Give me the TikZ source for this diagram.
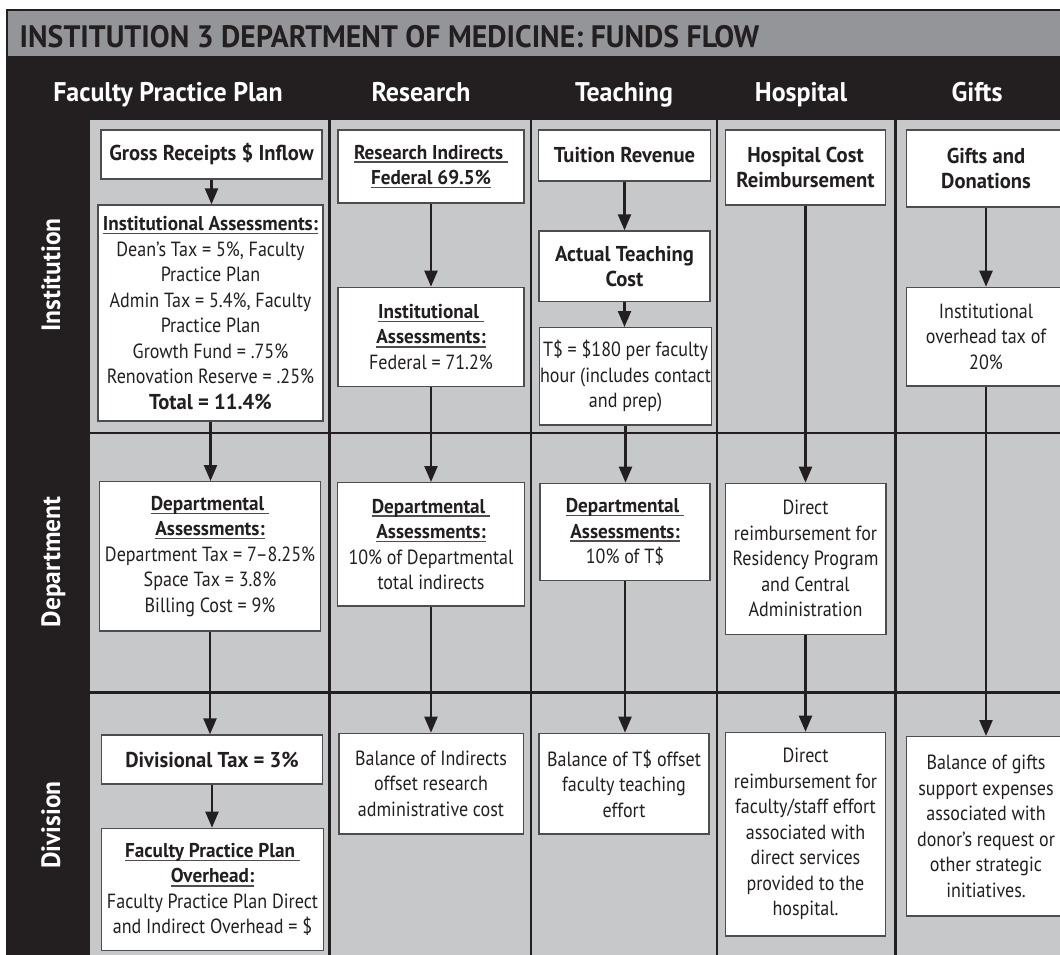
\documentclass[tikz,border=0pt]{standalone}
\usepackage{fontspec}
\setmainfont{PT Sans}[FakeStretch=0.88, BoldFeatures={FakeStretch=0.96}]
\usetikzlibrary{arrows.meta}
\definecolor{dark}{HTML}{231F20}
\definecolor{titlegray}{HTML}{939598}
\definecolor{gridgray}{HTML}{C7C8CA}
\definecolor{boxline}{HTML}{4D4D4F}
\definecolor{txt}{HTML}{231F20}
\newcommand\rg{\fontsize{20.5}{25.5}\selectfont}
\newcommand\bh{\fontsize{21.5}{25.5}\selectfont\bfseries}
\newcommand\bu{\fontsize{20}{25.5}\selectfont\bfseries}
\newcommand\uln[1]{\setbox0\hbox{#1}\rlap{\color{boxline}\vrule height -2.4pt depth 3.7pt width \wd0}\box0}
\tikzset{
  box/.style={draw=boxline, line width=1.3pt, fill=white, inner sep=0pt, align=center, text=txt, font=\rg},
  arr/.style={draw=dark, line width=2.3pt, -{Triangle[width=13pt,length=16pt]}},
  gridline/.style={draw=dark, line width=2.7pt},
  hdr/.style={text=white, font=\fontsize{27}{30}\selectfont\bfseries, anchor=base, inner sep=0pt},
  rowlbl/.style={text=white, font=\fontsize{26.5}{30}\selectfont\bfseries, anchor=base, rotate=90, inner sep=0pt}
}
\begin{document}
\begin{tikzpicture}[x=1pt,y=-1pt]
\useasboundingbox (0,0) rectangle (1060,954);
\clip (0,0) rectangle (1060,954);
% background structure
\fill[titlegray] (7,10) rectangle (1100,56);
\fill[dark] (7,55.5) rectangle (1100,120);
\fill[dark] (7,55.5) rectangle (90,1000);
\fill[gridgray] (90,120) rectangle (1100,1000);
\draw[dark, line width=2pt] (1100,10) -- (7,10) -- (7,1000);
% grid lines
\foreach \gx in {329.5,531,717,895.5} \draw[gridline] (\gx,120) -- (\gx,1000);
\foreach \gy in {433,692.5} \draw[gridline] (90,\gy) -- (1100,\gy);
% title and headers
\node[anchor=base west, inner sep=0pt, text=dark, font=\fontsize{31}{36}\selectfont\bfseries] (title) at (19.5,47.3) {INSTITUTION 3 DEPARTMENT OF MEDICINE: FUNDS FLOW};
\node[hdr] (hfpp) at (168,101.4) {Faculty Practice Plan};
\node[hdr] (hres) at (421,101.4) {Research};
\node[hdr] (htea) at (624,101.4) {Teaching};
\node[hdr] (hhos) at (801,101.4) {Hospital};
\node[hdr] (hgif) at (977,101.4) {Gifts};
\node[rowlbl] (rinst) at (60,275) {Institution};
\node[rowlbl] (rdept) at (60,562) {Department};
\node[rowlbl] (rdiv) at (60,825) {Division};
% Faculty Practice Plan column
\node[box, minimum width=221pt, minimum height=49pt] (gross) at (211.5,154.5) {{\bh Gross Receipts \$ Inflow}};
\node[box, minimum width=225pt, minimum height=216pt] (instA) at (210.5,313) {\uln{\bu Institutional Assessments:}\\ Dean’s Tax = 5\%, Faculty\\ Practice Plan\\ Admin Tax = 5.4\%, Faculty\\ Practice Plan\\ Growth Fund = .75\%\\ Renovation Reserve = .25\%\\ {\bh Total = 11.4\%}};
\node[box, minimum width=221.4pt, minimum height=149.3pt] (deptA) at (210,556.3) {\uln{\bu Departmental\ }\\ \uln{\bu Assessments:}\\ Department Tax = 7\textendash 8.25\%\\ Space Tax = 3.8\%\\ Billing Cost = 9\%};
\node[box, minimum width=220.6pt, minimum height=49pt] (divtax) at (212,759.5) {{\bh Divisional Tax = 3\%}};
\node[box, minimum width=221.6pt, minimum height=122.4pt] (fppoh) at (212.5,889.5) {\uln{\bu Faculty Practice Plan\ }\\ \uln{\bu Overhead:}\\ Faculty Practice Plan Direct\\ and Indirect Overhead = \$};
% Research column
\node[box, minimum width=186pt, minimum height=73pt] (resind) at (431,166.5) {\uln{\bu Research Indirects\ }\\ \uln{\bu Federal 69.5\%}};
\node[box, minimum width=186pt, minimum height=99.4pt] (resinst) at (431,337) {\uln{\bu Institutional\ }\\ \uln{\bu Assessments:}\\ Federal = 71.2\%};
\node[box, minimum width=187pt, minimum height=123.3pt] (resdept) at (431,544.3) {\uln{\bu Departmental\ }\\ \uln{\bu Assessments:}\\ 10\% of Departmental\\ total indirects};
\node[box, minimum width=184.3pt, minimum height=100.7pt] (resdiv) at (431,783.7) {Balance of Indirects\\ offset research\\ administrative cost};
% Teaching column
\node[box, minimum width=172.3pt, minimum height=51pt] (tuition) at (624.5,155.5) {{\bh Tuition Revenue}};
\node[box, minimum width=171pt, minimum height=70.7pt] (actual) at (624.5,266.3) {{\bh Actual Teaching}\\ {\bh Cost}};
\node[box, minimum width=172pt, minimum height=97.3pt] (tdollar) at (625.5,376.3) {T\$ = \$180 per faculty\\ hour (includes contact\\ and prep)};
\node[box, minimum width=170pt, minimum height=97.4pt] (teachdept) at (625,532) {\uln{\bu Departmental\ }\\ \uln{\bu Assessments:}\\ 10\% of T\$};
\node[box, minimum width=170pt, minimum height=100.7pt] (teachdiv) at (624,783.7) {Balance of T\$ offset\\ faculty teaching\\ effort};
% Hospital column
\node[box, minimum width=159.5pt, minimum height=75pt] (hospcost) at (805.5,167.5) {{\bh Hospital Cost}\\ {\bh Reimbursement}};
\node[box, minimum width=160.7pt, minimum height=151pt] (hospdept) at (805.5,558.8) {Direct\\ reimbursement for\\ Residency Program\\ and Central\\ Administration};
\node[box, minimum width=159.7pt, minimum height=203.7pt] (hospdiv) at (805.5,834.2) {Direct\\ reimbursement for\\ faculty/staff effort\\ associated with\\ direct services\\ provided to the\\ hospital.};
% Gifts column
\node[box, minimum width=159pt, minimum height=77pt] (gifts) at (986,168.5) {{\bh Gifts and}\\ {\bh Donations}};
\node[box, minimum width=159pt, minimum height=98.7pt] (giftinst) at (986,336.7) {Institutional\\ overhead tax of\\ 20\%};
\node[box, minimum width=159pt, minimum height=179.3pt] (giftdiv) at (986,826.3) {Balance of gifts\\ support expenses\\ associated with\\ donor’s request or\\ other strategic\\ initiatives.};
% connectors
\draw[arr] (gross.south) -- (gross.south |- instA.north);
\draw[arr] (instA.south) -- (instA.south |- deptA.north);
\draw[arr] (deptA.south) -- (deptA.south |- divtax.north);
\draw[arr] (divtax.south) -- (divtax.south |- fppoh.north);
\draw[arr] (resind.south) -- (resind.south |- resinst.north);
\draw[arr] (resinst.south) -- (resinst.south |- resdept.north);
\draw[arr] (resdept.south) -- (resdept.south |- resdiv.north);
\draw[arr] (tuition.south) -- (tuition.south |- actual.north);
\draw[arr] (actual.south) -- (actual.south |- tdollar.north);
\draw[arr] (tdollar.south) -- (tdollar.south |- teachdept.north);
\draw[arr] (teachdept.south) -- (teachdept.south |- teachdiv.north);
\draw[arr] (hospcost.south) -- (hospcost.south |- hospdept.north);
\draw[arr] (hospdept.south) -- (hospdept.south |- hospdiv.north);
\draw[arr] (gifts.south) -- (gifts.south |- giftinst.north);
\draw[arr] (giftinst.south) -- (giftinst.south |- giftdiv.north);
\end{tikzpicture}
\end{document}
